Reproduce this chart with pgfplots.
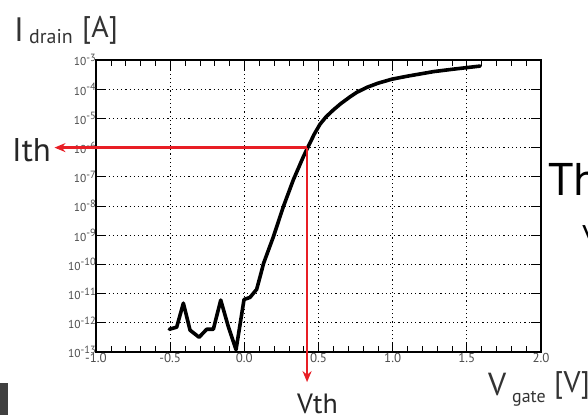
\documentclass[border=0pt]{standalone}
\usepackage{fontspec}
\setmainfont{PT Sans}
\usepackage{pgfplots}
\pgfplotsset{compat=1.18}
\usetikzlibrary{arrows.meta}
\definecolor{redline}{RGB}{232,30,37}
\newcommand\tlsup[1]{\raisebox{4.5bp}{\fontsize{10.5}{10.5}\selectfont #1}}
\begin{document}
\begin{tikzpicture}[x=1bp,y=1bp]
\path[use as bounding box, clip] (-96,-63) rectangle (492,352);
\begin{axis}[
  at={(0,0)}, anchor=south west,
  scale only axis, width=445bp, height=292bp,
  xmin=-1, xmax=2, ymin=1e-13, ymax=1e-3,
  ymode=log, log basis y=10,
  xtick={-1,-0.5,0,0.5,1,1.5,2},
  minor x tick num=4,
  ytick={1e-13,1e-12,1e-11,1e-10,1e-9,1e-8,1e-7,1e-6,1e-5,1e-4,1e-3},
  tick align=inside,
  major tick length=10bp, minor tick length=6bp,
  tick style={black, line width=1pt},
  minor tick style={black, line width=0.6pt},
  grid=major,
  major grid style={black, line width=0.9pt, dash pattern=on 1.2bp off 3bp},
  axis line style={line width=1.4pt},
  clip=false,
  /pgf/number format/assume math mode=true,
  ticklabel style={text=black!70, inner sep=1bp},
  yticklabel={\fontsize{11.5}{11.5}\selectfont 10\tlsup{\pgfmathparse{int(round(\tick))}\pgfmathresult}},
  xticklabel={\fontsize{13}{13}\selectfont\pgfmathprintnumber[fixed,fixed zerofill,precision=1]{\tick}},
  yticklabel style={xshift=1bp},
]
\addplot[black, line width=3.6bp, line join=round, line cap=round] coordinates {
(-0.506,6.0e-13) (-0.456,7.1e-13) (-0.411,4.7e-12) (-0.366,5.6e-13)
(-0.305,3.2e-13) (-0.254,6.0e-13) (-0.209,6.0e-13) (-0.159,6.0e-12)
(-0.108,7.4e-13) (-0.056,1.2e-13) (-0.002,6.3e-12) (0.038,7.4e-12)
(0.083,1.4e-11) (0.11,4.5e-11) (0.13,1.1e-10) (0.196,8.9e-10)
(0.263,9.5e-9) (0.33,7.8e-8) (0.398,4.9e-7) (0.43,1.07e-6)
(0.47,2.8e-6) (0.51,6.3e-6) (0.55,1.12e-5) (0.6,1.95e-5) (0.65,3.2e-5)
(0.713,5.5e-5) (0.76,7.9e-5) (0.825,1.15e-4) (0.9,1.6e-4)
(0.994,2.2e-4) (1.1,2.8e-4) (1.275,4.0e-4) (1.4,4.8e-4) (1.59,6.2e-4)
};
\draw[redline, line width=2.6bp, -{Stealth[length=11bp,width=9bp]}]
  (axis cs:0.423,1e-6) -- (axis cs:-1.28,1e-6);
\draw[redline, line width=2.6bp, -{Stealth[length=11bp,width=9bp]}]
  (axis cs:0.423,1e-6) -- (axis cs:0.423,9.3e-15);
\end{axis}
\node[anchor=base west, inner sep=0pt, font=\fontsize{34}{34}\selectfont, text=black!80] at (-82,311) {I};
\node[anchor=base west, inner sep=0pt, font=\fontsize{20}{20}\selectfont, text=black!80] at (-67,309) {drain};
\node[anchor=base west, inner sep=0pt, font=\fontsize{30}{30}\selectfont, text=black!80] at (-14,315) {[A]};
\node[anchor=base west, inner sep=0pt, font=\fontsize{33}{33}\selectfont, text=black!85] at (-84,191) {Ith};
\node[anchor=base west, inner sep=0pt, font=\fontsize{28}{28}\selectfont, text=black!85] at (201,-61) {Vth};
\node[anchor=base west, inner sep=0pt, font=\fontsize{32}{32}\selectfont, text=black!80] at (392,-43) {V};
\node[anchor=base west, inner sep=0pt, font=\fontsize{18}{18}\selectfont, text=black!80] at (416,-50) {gate};
\node[anchor=base west, inner sep=0pt, font=\fontsize{30}{30}\selectfont, text=black!80] at (458,-40) {[V]};
\node[anchor=base west, inner sep=0pt, font=\fontsize{46}{46}\selectfont] at (452,157) {Th};
\node[anchor=base west, inner sep=0pt, font=\fontsize{30}{30}\selectfont] at (486,112) {v};
\fill[black!75] (-96,-63) rectangle (-88,-31);
\end{tikzpicture}
\end{document}
